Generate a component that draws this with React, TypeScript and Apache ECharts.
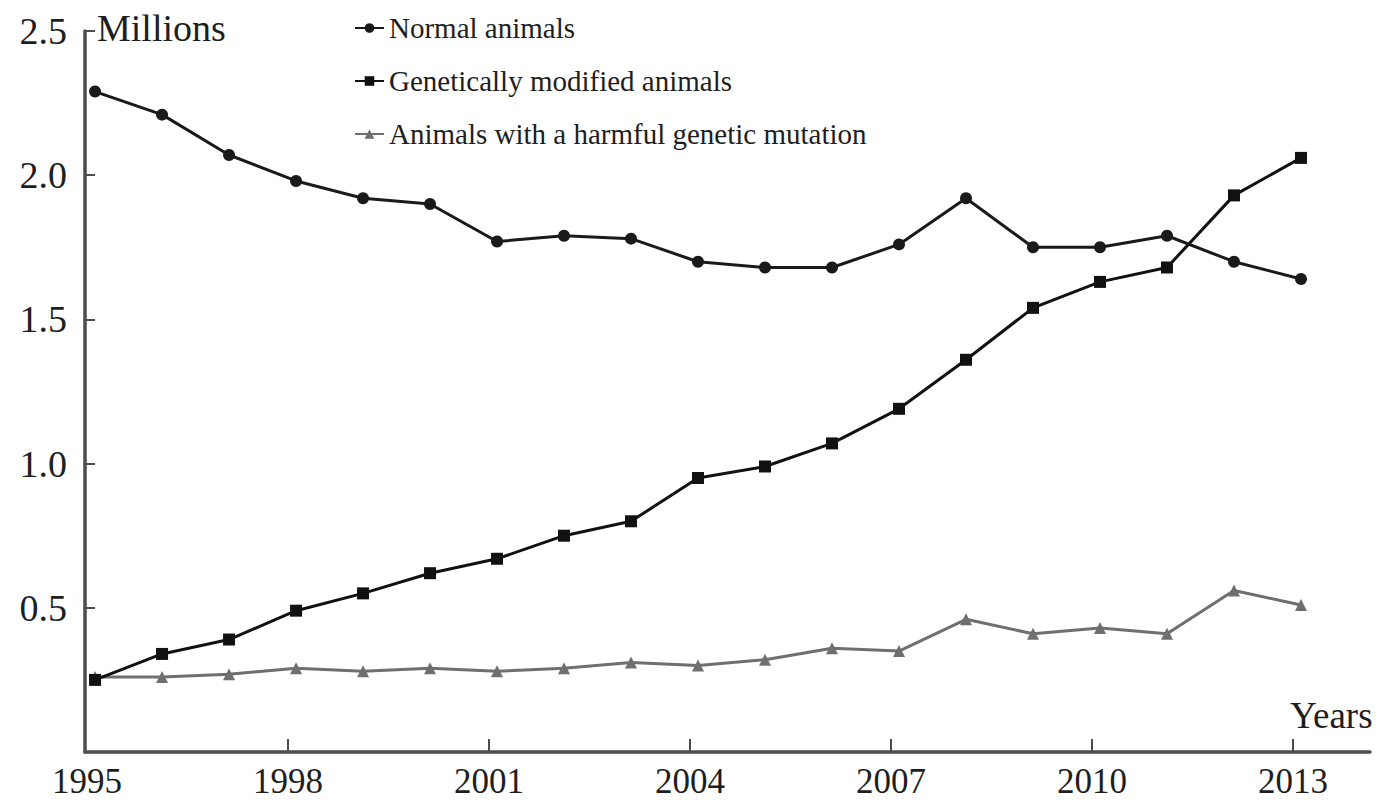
import React, { useEffect, useRef } from "react";
import * as echarts from "echarts";

const years = [1995, 1996, 1997, 1998, 1999, 2000, 2001, 2002, 2003, 2004, 2005, 2006, 2007, 2008, 2009, 2010, 2011, 2012, 2013];
const normalAnimals = [2.29, 2.21, 2.07, 1.98, 1.92, 1.9, 1.77, 1.79, 1.78, 1.7, 1.68, 1.68, 1.76, 1.92, 1.75, 1.75, 1.79, 1.7, 1.64];
const gmAnimals = [0.25, 0.34, 0.39, 0.49, 0.55, 0.62, 0.67, 0.75, 0.8, 0.95, 0.99, 1.07, 1.19, 1.36, 1.54, 1.63, 1.68, 1.93, 2.06];
const harmfulMutation = [0.26, 0.26, 0.27, 0.29, 0.28, 0.29, 0.28, 0.29, 0.31, 0.3, 0.32, 0.36, 0.35, 0.46, 0.41, 0.43, 0.41, 0.56, 0.51];

const xTickYears = [1998, 2001, 2004, 2007, 2010, 2013];
const xLabelYears = [1995, 1998, 2001, 2004, 2007, 2010, 2013];
const yTickValues = [0.5, 1.0, 1.5, 2.0, 2.5];

const seriesNames = ["Normal animals", "Genetically modified animals", "Animals with a harmful genetic mutation"];

const FONT = "Liberation Serif";
const AXIS_COLOR = "#4d4d4d";
const TEXT_COLOR = "#1e1e1e";

export default function App() {
  const ref = useRef<HTMLDivElement>(null);

  useEffect(() => {
    if (!ref.current) return;
    const chart = echarts.init(ref.current, undefined, { renderer: "svg" });
    const pairs = (vals: number[]) => years.map((y, i) => [y, vals[i]]);

    chart.setOption({
      animation: false,
      backgroundColor: "#ffffff",
      grid: { left: 85, right: 17, top: 31, bottom: 50, containLabel: false },
      legend: {
        orient: "vertical",
        left: 354,
        top: 13,
        padding: 0,
        itemWidth: 29,
        itemHeight: 12,
        itemGap: 23,
        data: seriesNames,
        textStyle: { fontFamily: FONT, fontSize: 29, color: TEXT_COLOR, lineHeight: 30 },
      },
      xAxis: [
        {
          type: "value",
          min: 1994.97,
          max: 2014.15,
          axisLine: { show: true, onZero: false, lineStyle: { color: AXIS_COLOR, width: 3.5 } },
          axisTick: { show: true, inside: true, length: 13, customValues: xTickYears, lineStyle: { color: AXIS_COLOR, width: 2 } },
          axisLabel: {
            customValues: xLabelYears,
            formatter: (v: number) => String(v),
            fontFamily: FONT,
            fontSize: 35,
            lineHeight: 35,
            color: TEXT_COLOR,
            margin: 12,
          },
          splitLine: { show: false },
        },
        {
          type: "value",
          min: 1994.85,
          max: 2014.03,
          show: false,
        },
      ],
      yAxis: {
        type: "value",
        min: 0,
        max: 2.5,
        interval: 0.5,
        axisLine: { show: true, onZero: false, lineStyle: { color: AXIS_COLOR, width: 3.5 } },
        axisTick: { show: true, inside: true, length: 10, customValues: yTickValues, lineStyle: { color: AXIS_COLOR, width: 2 } },
        axisLabel: {
          customValues: yTickValues,
          formatter: (v: number) => v.toFixed(1),
          fontFamily: FONT,
          fontSize: 38,
          color: TEXT_COLOR,
          margin: 18,
        },
        splitLine: { show: false },
      },
      graphic: [
        {
          type: "text",
          left: 97,
          top: 9,
          style: { text: "Millions", fontFamily: FONT, fontSize: 38, fill: TEXT_COLOR },
        },
        {
          type: "text",
          left: 1290,
          top: 697,
          style: { text: "Years", fontFamily: FONT, fontSize: 37, fill: TEXT_COLOR },
        },
      ],
      series: [
        {
          name: seriesNames[0],
          type: "line",
          xAxisIndex: 1,
          data: pairs(normalAnimals),
          symbol: "circle",
          symbolSize: 12,
          lineStyle: { color: "#1a1a1a", width: 3 },
          itemStyle: { color: "#1a1a1a" },
          z: 3,
        },
        {
          name: seriesNames[1],
          type: "line",
          xAxisIndex: 1,
          data: pairs(gmAnimals),
          symbol: "rect",
          symbolSize: 12,
          lineStyle: { color: "#111111", width: 3 },
          itemStyle: { color: "#111111" },
          z: 3,
        },
        {
          name: seriesNames[2],
          type: "line",
          xAxisIndex: 1,
          data: pairs(harmfulMutation),
          symbol: "triangle",
          symbolSize: 12,
          lineStyle: { color: "#6f6f6f", width: 3 },
          itemStyle: { color: "#6f6f6f" },
          z: 2,
        },
      ],
    });

    return () => chart.dispose();
  }, []);

  return (
    <div
      ref={ref}
      style={{ position: "fixed", left: 0, top: 0, width: 1387, height: 802, background: "#fff" }}
    />
  );
}
